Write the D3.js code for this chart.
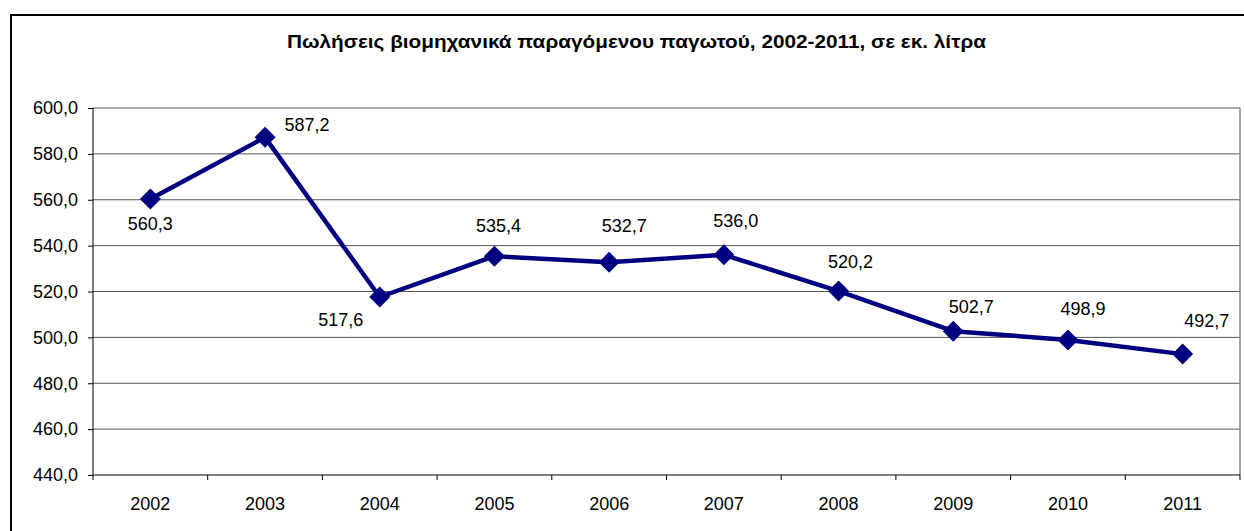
<!DOCTYPE html>
<html>
<head>
<meta charset="utf-8">
<script src="https://cdn.jsdelivr.net/npm/d3@7"></script>
<style>
  html, body { margin: 0; padding: 0; background: #fff; }
  svg { display: block; font-family: Arial, "Liberation Sans", sans-serif; }
</style>
</head>
<body>
<svg id="chart" width="1244" height="531"></svg>
<script>
const title = "Πωλήσεις βιομηχανικά παραγόμενου παγωτού, 2002-2011, σε εκ. λίτρα";
const years = ["2002","2003","2004","2005","2006","2007","2008","2009","2010","2011"];
const sales = [560.3, 587.2, 517.6, 535.4, 532.7, 536.0, 520.2, 502.7, 498.9, 492.7];
const yTicks = [440, 460, 480, 500, 520, 540, 560, 580, 600];

// label placement offsets (dx, dy of baseline) relative to each point
const labelOffset = [[0,31],[42,-6],[-39,29],[4,-24],[15,-30],[12,-28],[12,-23],[18,-18],[15,-25],[24,-27]];

const svg = d3.select("#chart");
const m = {left: 93, top: 108, right: 1240, bottom: 475};
const FS = 18;

// outer frame
svg.append("rect").attr("x", 11).attr("y", 15).attr("width", 1260).attr("height", 540)
  .attr("fill", "none").attr("stroke", "#000").attr("stroke-width", 2);

svg.append("text").attr("x", 636.5).attr("y", 48).attr("text-anchor", "middle")
  .attr("font-size", 17.5).attr("font-weight", "bold").attr("fill", "#000")
  .attr("textLength", 699).attr("lengthAdjust", "spacingAndGlyphs").text(title);

const x = d3.scaleBand().domain(years).range([m.left, m.right]);
const y = d3.scaleLinear().domain([440, 600]).range([m.bottom, m.top]);
const fmt = v => d3.format(".1f")(v).replace(".", ",");

// gridlines
svg.append("g").selectAll("line").data(yTicks.filter(t => t > 440)).join("line")
  .attr("x1", m.left).attr("x2", m.right).attr("y1", d => y(d)).attr("y2", d => y(d))
  .attr("stroke", "#555").attr("stroke-width", 1);
// right border
svg.append("line").attr("x1", m.right).attr("x2", m.right).attr("y1", m.top).attr("y2", m.bottom)
  .attr("stroke", "#888").attr("stroke-width", 1.5);

// y axis
const yAxis = svg.append("g").attr("transform", `translate(${m.left},0)`)
  .call(d3.axisLeft(y).tickValues(yTicks).tickFormat(fmt).tickSize(5).tickPadding(10));
yAxis.select(".domain").attr("stroke", "#000").attr("d", `M0,${m.top}V${m.bottom}`);
yAxis.selectAll("text").attr("font-size", FS).attr("font-family", "Arial, 'Liberation Sans', sans-serif").attr("fill", "#000");

// x axis
const xAxis = svg.append("g").attr("transform", `translate(0,${m.bottom})`)
  .call(d3.axisBottom(x).tickSize(0).tickPadding(22));
xAxis.select(".domain").attr("stroke", "#000").attr("d", `M${m.left},0H${m.right}`);
xAxis.selectAll("text").attr("font-size", FS).attr("font-family", "Arial, 'Liberation Sans', sans-serif").attr("fill", "#000");
// x ticks at band boundaries
const bounds = years.map(d => x(d)).concat([x(years[years.length-1]) + x.bandwidth()]);
xAxis.append("g").selectAll("line").data(bounds).join("line")
  .attr("x1", d => d).attr("x2", d => d).attr("y1", 0).attr("y2", 5).attr("stroke", "#000");

const cx = (d, i) => x(years[i]) + x.bandwidth() / 2;

// line
svg.append("path").datum(sales)
  .attr("fill", "none").attr("stroke", "#000080").attr("stroke-width", 4.5).attr("stroke-linejoin", "round")
  .attr("d", d3.line().x((d, i) => cx(d, i)).y(d => y(d)));

// markers
const r = 10.5;
svg.append("g").selectAll("path").data(sales).join("path")
  .attr("transform", (d, i) => `translate(${cx(d, i)},${y(d)})`)
  .attr("d", `M0,${-r}L${r},0L0,${r}L${-r},0Z`).attr("fill", "#000080");

// data labels
svg.append("g").selectAll("text").data(sales).join("text")
  .attr("x", (d, i) => cx(d, i) + labelOffset[i][0])
  .attr("y", (d, i) => y(d) + labelOffset[i][1])
  .attr("text-anchor", "middle").attr("font-size", FS).attr("fill", "#000")
  .text(d => fmt(d));
</script>
</body>
</html>
